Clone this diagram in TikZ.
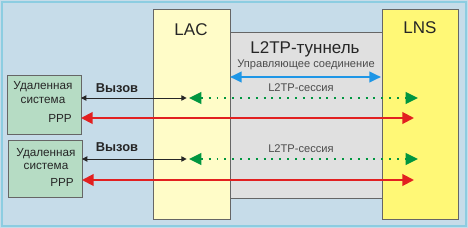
\documentclass[tikz,border=0pt]{standalone}
\usepackage{fontspec}
\setmainfont{Liberation Sans}
\usetikzlibrary{arrows.meta}
\definecolor{bgblue}{RGB}{198,220,233}
\definecolor{frameblue}{RGB}{140,205,225}
\definecolor{lacyellow}{RGB}{255,252,200}
\definecolor{lnsyellow}{RGB}{255,248,118}
\definecolor{tungray}{RGB}{224,224,224}
\definecolor{rsgreen}{RGB}{182,220,196}
\definecolor{pppred}{RGB}{226,32,32}
\definecolor{sessgreen}{RGB}{0,150,64}
\definecolor{ctlblue}{RGB}{30,150,230}
\begin{document}
\begin{tikzpicture}[x=0.03cm,y=-0.03cm, every node/.style={text=black!85},
  box/.style={draw=black!60,line width=0.6pt,inner sep=0pt,outer sep=0pt},
  big/.style={font=\fontsize{14.5}{16}\selectfont},
  lbl/.style={font=\fontsize{9.5}{11}\selectfont,text=black!70},
  rstxt/.style={font=\fontsize{10}{12}\selectfont},
  calltxt/.style={font=\fontsize{11}{13}\selectfont\bfseries},
  callarr/.style={line width=0.85pt,black!85,{Triangle[length=4.5pt,width=4.5pt]}-{Triangle[length=4.5pt,width=4.5pt]}},
  ppparr/.style={line width=1.7pt,pppred,{Triangle[length=10pt,width=10pt]}-{Triangle[length=10pt,width=10pt]}},
  sessarr/.style={line width=1.7pt,sessgreen,dash pattern=on 1.7pt off 5pt,
    {Triangle[length=10.5pt,width=10pt]}-{Triangle[length=10.5pt,width=10pt]}},
  ctlarr/.style={line width=2pt,ctlblue,{Triangle[length=10pt,width=9pt]}-{Triangle[length=10pt,width=9pt]}}]
\useasboundingbox (0,0) rectangle (468,228);
\fill[bgblue] (0,0) rectangle (468,228);
\draw[frameblue,line width=1.2pt] (2,2) rectangle (466,226);
\node[box,fill=tungray,minimum width=4.56cm,minimum height=4.98cm] (tunnel) at (306,115) {};
\node[box,fill=lacyellow,minimum width=2.31cm,minimum height=6.3cm] (lac) at (191.5,114) {};
\node[box,fill=lnsyellow,minimum width=2.28cm,minimum height=6.3cm] (lns) at (420,114) {};
\node[big] (lactxt) at (191,30) {LAC};
\node[big] (lnstxt) at (420,28) {LNS};
\node[big] (tuntxt) at (305,49) {L2TP-туннель};
\node[lbl] (ctltxt) at (306,65) {Управляющее соединение};
\coordinate (ctl) at (381,77);
\draw[ctlarr] (tunnel.west |- ctl) -- (ctl);
% first remote system
\node[box,fill=rsgreen,minimum width=2.22cm,minimum height=1.77cm] (rs1) at (44,104.5) {};
\node[rstxt] (rs1a) at (43,87) {Удаленная};
\node[rstxt] (rs1b) at (43,100) {система};
\node[rstxt] (ppp1) at (60,118) {PPP};
\node[calltxt] (call1) at (117,88) {Вызов};
\node[lbl] (sess1) at (301,88) {L2TP-сессия};
\coordinate (lac1) at (189,98);
\coordinate (lns1) at (418,98);
\coordinate (lnsp1) at (414,118);
\draw[callarr] (rs1.east |- lac1) -- ([xshift=-2]lac1);
\draw[sessarr] (lac1) -- (lns1);
\draw[ppparr] (rs1.east |- lnsp1) -- (lnsp1);
% second remote system
\node[box,fill=rsgreen,minimum width=2.22cm,minimum height=1.71cm] (rs2) at (45,168.5) {};
\node[rstxt] (rs2a) at (46,154) {Удаленная};
\node[rstxt] (rs2b) at (46,166) {система};
\node[rstxt] (ppp2) at (62,182) {PPP};
\node[calltxt] (call2) at (117,147) {Вызов};
\node[lbl] (sess2) at (301,149) {L2TP-сессия};
\coordinate (lac2) at (189,159);
\coordinate (lns2) at (418,159);
\coordinate (lnsp2) at (414,180);
\draw[callarr] (rs2.east |- lac2) -- ([xshift=-2]lac2);
\draw[sessarr] (lac2) -- (lns2);
\draw[ppparr] (rs2.east |- lnsp2) -- (lnsp2);
\end{tikzpicture}
\end{document}
